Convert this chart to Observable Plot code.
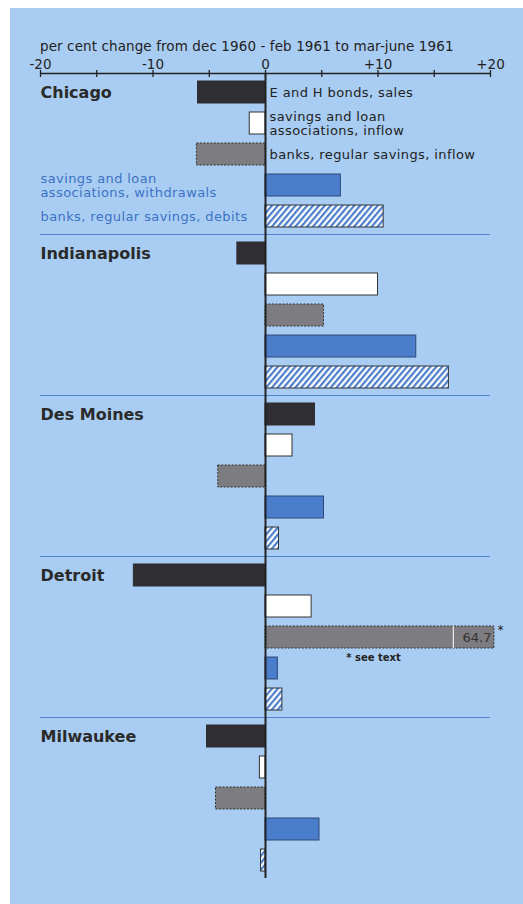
<!DOCTYPE html>
<html><head><meta charset="utf-8">
<script src="https://cdn.jsdelivr.net/npm/d3@7"></script>
<script src="https://cdn.jsdelivr.net/npm/@observablehq/plot@0.6"></script>
<style>
html,body{margin:0;padding:0;background:#fff;}
#panel{position:absolute;left:10px;top:8px;width:513px;height:896px;background:#a9cdf2;overflow:hidden;font-family:"DejaVu Sans",sans-serif;}
#title{position:absolute;left:30px;top:30px;font-size:13.5px;letter-spacing:0.1px;color:#222;white-space:nowrap;}
#chart{position:absolute;left:0;top:46px;}
.lbl text{letter-spacing:0.4px;}
</style></head><body>
<div id="panel"><div id="title">per cent change from dec 1960 - feb 1961 to mar-june 1961</div><div id="chart"></div></div>
<script>
// ---- data ----
const cities = ["Chicago", "Indianapolis", "Des Moines", "Detroit", "Milwaukee"];
const series = [
  "E and H bonds, sales",
  "savings and loan associations, inflow",
  "banks, regular savings, inflow",
  "savings and loan associations, withdrawals",
  "banks, regular savings, debits"
];
const seriesLabels = [
  "E and H bonds, sales",
  "savings and loan\nassociations, inflow",
  "banks, regular savings, inflow",
  "savings and loan\nassociations, withdrawals",
  "banks, regular savings, debits"
];
const bondSales     = [-6.0, -2.5, 4.4, -11.7, -5.2];
const slInflow      = [-1.4, 10.0, 2.4, 4.1, -0.5];
const bankInflow    = [-6.1, 5.2, -4.2, 64.7, -4.4];
const slWithdrawals = [6.7, 13.4, 5.2, 1.1, 4.8];
const bankDebits    = [10.5, 16.3, 1.2, 1.5, -0.4];
const majorTicks = [-20, -10, 0, 10, 20];
const minorTicks = [-20, -15, -10, -5, 0, 5, 10, 15, 20];
const noteText = "* see text";

// ---- layout ----
const values = [bondSales, slInflow, bankInflow, slWithdrawals, bankDebits];
const rows = cities.flatMap((c, i) => series.map((s, j) => ({city: c, series: s, value: values[j][i]})));
const W = 513, H = 850, mT = 19, mB = 26, mL = 30, mR = 33;
const fh = (H - mT - mB) / cities.length;
const xCap = 20.35, breakX = 16.7, noteX = 9.6;
const sepColor = "#4f82cf", blueText = "#3c72c4";

const styles = [
  {fill: "#2f2f33", stroke: "#2f2f33"},
  {fill: "#ffffff", stroke: "#333"},
  {fill: "#7d7c80", stroke: "#333", strokeDasharray: "2,1.5"},
  {fill: "#4a7dca", stroke: "#2e4a7a"},
  {fill: "url(#hatch)", stroke: "#333"}
];
const barMarks = series.map((s, j) => Plot.barX(rows.filter(d => d.series === s), {
  fy: "city", y: "series", x1: () => 0, x2: d => Math.min(d.value, xCap), strokeWidth: 1, ...styles[j]
}));

const labelRows = series.map((s, j) => ({series: s, label: seriesLabels[j], j}));
const over = rows.filter(d => d.value > 20);
const fmt = d => d > 0 ? `+${d}` : `${d}`;

const plot = Plot.plot({
  width: W, height: H, marginTop: mT, marginBottom: mB, marginLeft: mL, marginRight: mR,
  style: {background: "transparent", fontFamily: "DejaVu Sans, sans-serif", color: "#222", overflow: "visible"},
  x: {domain: [-20, 20]},
  y: {domain: series, paddingInner: 0.3, paddingOuter: 0.2, axis: null},
  fy: {domain: cities, padding: 0, axis: null},
  marks: [
    Plot.ruleY(cities.slice(1), {fy: d => d, y: null, dy: -fh / 2, stroke: sepColor, strokeWidth: 1}),
    ...barMarks,
    Plot.tickX(over, {fy: "city", y: "series", x: () => breakX, stroke: "#e6e6e6", strokeWidth: 1.3}),
    Plot.text(over, {fy: "city", y: "series", x: () => xCap, dx: -3, textAnchor: "end", text: d => d.value.toFixed(1), fontSize: 13, fill: "#333"}),
    Plot.text(over, {fy: "city", y: "series", x: () => xCap, dx: 3, dy: -7, textAnchor: "start", text: () => "*", fontSize: 12, fill: "#222"}),
    Plot.text(over, {fy: "city", y: "series", x: () => noteX, dy: 20, text: () => noteText, fontSize: 10, fontWeight: "bold", fill: "#222"}),
    Plot.ruleX([0], {stroke: "#222", strokeWidth: 2}),
    Plot.ruleY([cities[0]], {fy: d => d, y: null, dy: -fh / 2, stroke: "#222", strokeWidth: 1.5}),
    Plot.axisX({anchor: "top", ticks: minorTicks, tickSize: 7, dy: 3, tickFormat: () => "", stroke: "#222", strokeWidth: 1.3, label: null}),
    Plot.axisX({anchor: "top", ticks: majorTicks, tickSize: 0, tickPadding: 5, tickFormat: fmt, fontSize: 13.5, fill: "#222", label: null}),
    Plot.text(cities, {fy: d => d, y: () => series[0], frameAnchor: "left", textAnchor: "start", text: d => d, fontSize: 16, fontWeight: "bold", fill: "#2a2a2a"}),
    Plot.text(labelRows.filter(d => d.j < 3), {fy: () => cities[0], y: "series", x: () => 0, dx: 4, textAnchor: "start", text: "label", fontSize: 13, lineHeight: 1.1, fill: "#222", className: "lbl"}),
    Plot.text(labelRows.filter(d => d.j >= 3), {fy: () => cities[0], y: "series", frameAnchor: "left", textAnchor: "start", text: "label", fontSize: 13, lineHeight: 1.1, fill: blueText, className: "lbl"})
  ]
});
const svg = plot.tagName.toLowerCase() === "svg" ? plot : plot.querySelector("svg");
const defs = document.createElementNS("http://www.w3.org/2000/svg", "defs");
defs.innerHTML = `<pattern id="hatch" patternUnits="userSpaceOnUse" width="4.5" height="4.5" patternTransform="rotate(40)"><rect width="4.5" height="4.5" fill="#ffffff"/><rect width="2.2" height="4.5" fill="#4a7dca"/></pattern>`;
svg.insertBefore(defs, svg.firstChild);
document.getElementById("chart").appendChild(plot);
</script>
</body></html>
